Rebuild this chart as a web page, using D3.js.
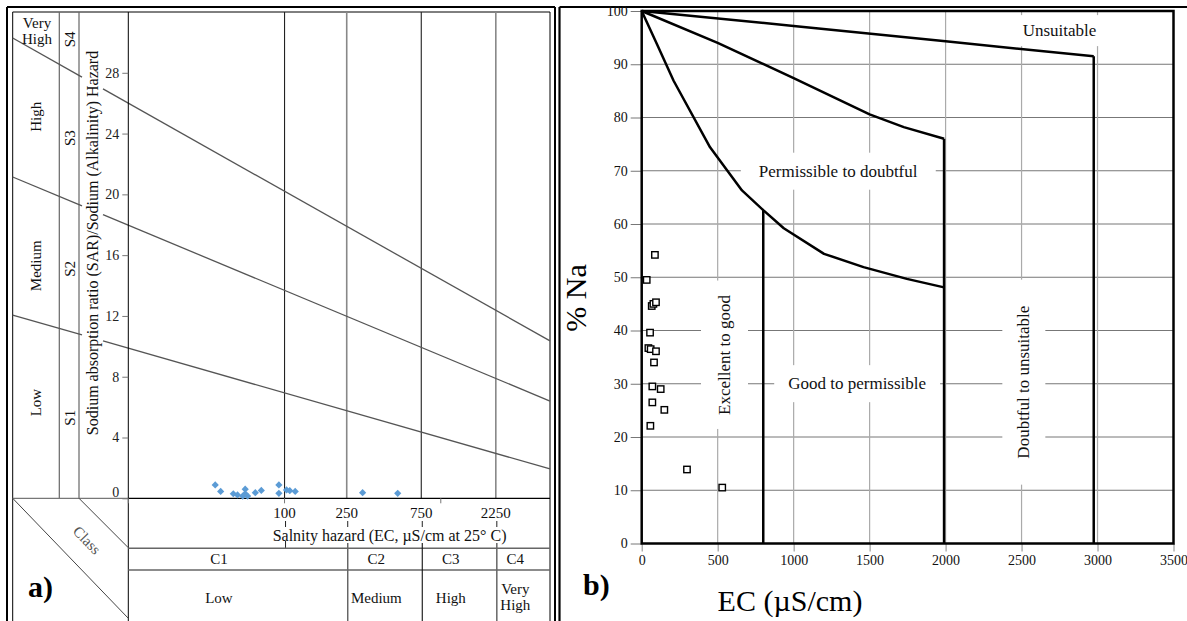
<!DOCTYPE html>
<html>
<head>
<meta charset="utf-8">
<script src="https://cdn.jsdelivr.net/npm/d3@7"></script>
<style>
    body { margin: 0; background: #fff; }
    svg { display: block; font-family: "Liberation Serif", "Times New Roman", serif; }
</style>
</head>
<body>
<svg id="canvas" width="1187" height="621"></svg>
<script>
// ---------- panel a) : USSL (Richards) diagram ----------
const sarTicks = [0, 4, 8, 12, 16, 20, 24, 28];
const ecLabelsA = [100, 250, 750, 2250];
const ecMajorA = [10, 100, 1000];
// SAR of each hazard boundary read at EC = 10 and EC = 5000
const sarBoundaries = [
    {name: "S3/S4", at10: 26.0, at5000: 10.36},
    {name: "S2/S3", at10: 17.97, at5000: 6.4},
    {name: "S1/S2", at10: 9.88, at5000: 1.93}
];
const sodiumClasses = [
    {label: ["Very", "High"], s: "S4", sar: 30.8, sSar: 30.2},
    {label: ["High"], s: "S3", sar: 25.1, sSar: 23.7},
    {label: ["Medium"], s: "S2", sar: 15.3, sSar: 15.1},
    {label: ["Low"], s: "S1", sar: 6.3, sSar: 5.3}
];
const salinityClasses = ["C1", "C2", "C3", "C4"];
const salinityNames = [["Low"], ["Medium"], ["High"], ["Very", "High"]];
const salinityLabelEC = [38, 387, 1160, 3000];
const salinityLimits = [250, 750, 2250];
const samplesA = [
    [36, 0.88], [39, 0.45], [47, 0.3], [56, 0.6], [56, 0.3], [54, 0.15], [58, 0.15],
    [50, 0.22], [65, 0.37], [71, 0.52], [92, 0.88], [92, 0.33], [103, 0.55],
    [108, 0.5], [117, 0.45], [316, 0.37], [530, 0.33]
];

// ---------- panel b) : Wilcox diagram ----------
const ecTicksB = [0, 500, 1000, 1500, 2000, 2500, 3000, 3500];
const naTicks = [0, 10, 20, 30, 40, 50, 60, 70, 80, 90, 100];
const upperCurve = [[0, 100], [1000, 97.2], [2000, 94.3], [2975, 91.5]];
const middleCurve = [[0, 100], [500, 94], [1000, 87.4], [1500, 80.6], [1725, 78.2], [1990, 76]];
const lowerCurve = [[0, 100], [100, 93.8], [210, 86.9], [450, 74.4], [660, 66.3], [800, 62.6],
    [935, 59.2], [1200, 54.4], [1460, 51.9], [1745, 49.7], [1990, 48.1]];
const classLimitsB = [800, 1990, 2975];
const samplesB = [
    [87, 54.2], [33, 49.5], [66, 44.6], [77, 45.0], [94, 45.3], [55, 39.6], [44, 36.7],
    [59, 36.5], [94, 36.1], [81, 34.0], [70, 29.5], [125, 29.0], [70, 26.5], [149, 25.1],
    [57, 22.1], [298, 13.9], [530, 10.5]
];
const zoneLabels = [
    {text: "Unsuitable", ec: 2750, na: 96.4, rotate: 0, padX: 12, padY: 6},
    {text: "Permissible to doubtful", ec: 1293, na: 70, rotate: 0, padX: 18, padY: 9},
    {text: "Excellent to good", ec: 542, na: 35.4, rotate: -90, padX: 14, padY: 14},
    {text: "Good to permissible", ec: 1418, na: 30.1, rotate: 0, padX: 14, padY: 9},
    {text: "Doubtful to unsuitable", ec: 2512, na: 30.3, rotate: -90, padX: 12, padY: 26}
];

const svg = d3.select("#canvas");
svg.append("rect").attr("width", 1187).attr("height", 621).attr("fill", "#fff");

function line(g, x1, y1, x2, y2, color, width) {
    return g.append("line")
        .attr("x1", x1).attr("y1", y1).attr("x2", x2).attr("y2", y2)
        .attr("stroke", color).attr("stroke-width", width);
}

/**
 * Draws panel a) with its class columns and the salinity/sodium grid.
 */
function drawPanelA() {
    const g = svg.append("g");
    const xA = d3.scaleLog().domain([10, 5000]).range([128.3, 550]);
    const yA = d3.scaleLinear().domain([0, 32]).range([498.3, 12]);
    const left = 12.7, right = xA.range()[1], top = yA.range()[1], bottom = yA.range()[0];

    // frames
    line(g, 7, 7, 555, 7, "#000", 2);
    line(g, 7, 7, 7, 621, "#000", 2);
    line(g, 555, 7, 555, 621, "#000", 2);
    line(g, left, top, right, top, "#000", 1);
    line(g, left, top, left, 621, "#000", 1);
    line(g, right, top, right, 621, "#000", 1);

    // class columns on the left
    line(g, 59.3, top, 59.3, bottom, "#666", 1.2);
    line(g, 79, top, 79, bottom, "#666", 1.2);
    line(g, left, bottom, xA(10), bottom, "#777", 1.2);

    // vertical salinity lines
    g.selectAll(".vgrid").data(ecLabelsA).enter().append("line")
        .attr("x1", d => xA(d)).attr("x2", d => xA(d))
        .attr("y1", top).attr("y2", bottom)
        .attr("stroke", (d, i) => i % 2 ? "#888" : "#222")
        .attr("stroke-width", (d, i) => i % 2 ? 1.6 : 1.1);

    // sodium hazard boundaries, broken where the axis title sits
    const x10 = xA(10), x5000 = xA(5000);
    sarBoundaries.forEach(b => {
        const yAt = px => yA(b.at10) + (px - x10) / (x5000 - x10) * (yA(b.at5000) - yA(b.at10));
        [[left, 82], [103, right]].forEach(seg => {
            line(g, seg[0], yAt(seg[0]), seg[1], yAt(seg[1]), "#555", 1.3);
        });
    });

    // axes
    line(g, x10, top, x10, 621, "#000", 1);
    line(g, x10, bottom, right, bottom, "#000", 1.2);
    const yAxis = g.append("g").attr("transform", `translate(${x10},0)`)
        .call(d3.axisLeft(yA).tickValues(sarTicks).tickSize(6).tickPadding(3));
    yAxis.select(".domain").remove();
    yAxis.selectAll("line").attr("stroke", "#777");
    yAxis.selectAll("text").attr("font-size", 14).attr("fill", "#222")
        .attr("font-family", "Liberation Serif")
        .attr("dy", d => d === 0 ? "-0.1em" : "0.32em");
    g.selectAll(".xtick").data(ecMajorA).enter().append("line")
        .attr("x1", d => xA(d)).attr("x2", d => xA(d))
        .attr("y1", bottom).attr("y2", bottom + 5)
        .attr("stroke", "#777");

    g.selectAll(".xlab").data(ecLabelsA).enter().append("text")
        .attr("x", d => xA(d)).attr("y", 518)
        .attr("text-anchor", "middle").attr("font-size", 15).attr("fill", "#111")
        .text(d => d);
    g.selectAll(".xdash").data(ecLabelsA).enter().append("line")
        .attr("x1", d => xA(d) + 1).attr("x2", d => xA(d) + 1)
        .attr("y1", 521).attr("y2", 527).attr("stroke", "#222");
    line(g, xA(100) + 1, 541, xA(100) + 1, 548, "#222", 1);
    g.append("text").attr("x", xA(470)).attr("y", 541)
        .attr("text-anchor", "middle").attr("font-size", 16).attr("fill", "#111")
        .text("Salnity hazard (EC, \u00b5S/cm at 25\u00b0 C)");

    // salinity class table
    line(g, x10, 548.3, right, 548.3, "#666", 1.5);
    line(g, x10, 570, right, 570, "#666", 1.5);
    g.selectAll(".csep").data(salinityLimits).enter().append("line")
        .attr("x1", d => xA(d) + 1).attr("x2", d => xA(d) + 1)
        .attr("y1", 543).attr("y2", 621)
        .attr("stroke", (d, i) => i === 1 ? "#111" : "#666")
        .attr("stroke-width", (d, i) => i === 1 ? 1.1 : 1.5);
    g.selectAll(".clab").data(salinityClasses).enter().append("text")
        .attr("x", (d, i) => xA(salinityLabelEC[i])).attr("y", 564)
        .attr("text-anchor", "middle").attr("font-size", 15).attr("fill", "#111")
        .text(d => d);
    salinityNames.forEach((name, i) => {
        const t = g.append("text").attr("x", xA(salinityLabelEC[i]))
            .attr("y", name.length > 1 ? 594 : 603)
            .attr("text-anchor", "middle").attr("font-size", 15).attr("fill", "#111");
        name.forEach((w, j) => t.append("tspan").attr("x", xA(salinityLabelEC[i]))
            .attr("dy", j ? 16 : 0).text(w));
    });

    // sodium class labels
    sodiumClasses.forEach(c => {
        if (c.label.length > 1) {
            const t = g.append("text").attr("x", 37).attr("y", 28)
                .attr("text-anchor", "middle").attr("font-size", 15).attr("fill", "#111");
            c.label.forEach((w, j) => t.append("tspan").attr("x", 37).attr("dy", j ? 16 : 0).text(w));
        } else {
            g.append("text").attr("transform", `translate(36,${yA(c.sar)}) rotate(-90)`)
                .attr("text-anchor", "middle").attr("dy", "0.35em")
                .attr("font-size", 15).attr("fill", "#111").text(c.label[0]);
        }
        g.append("text").attr("transform", `translate(69.5,${yA(c.sSar)}) rotate(-90)`)
            .attr("text-anchor", "middle").attr("dy", "0.35em")
            .attr("font-size", 15).attr("fill", "#111").text(c.s);
    });
    g.append("text").attr("transform", `translate(92,${yA(16.8)}) rotate(-90)`)
        .attr("text-anchor", "middle").attr("dy", "0.35em")
        .attr("font-size", 16).attr("fill", "#111")
        .text("Sodium absorption ratio (SAR)/Sodium (Alkalinity) Hazard");

    // corner with the "Class" diagonal
    line(g, left, bottom, x10, 618.3, "#444", 1);
    line(g, 79, bottom, x10, 547.7, "#444", 1);
    g.append("text").attr("transform", "translate(87,540) rotate(46)")
        .attr("text-anchor", "middle").attr("dy", "0.35em")
        .attr("font-size", 15).attr("fill", "#555").text("Class");
    g.append("text").attr("x", 28).attr("y", 597)
        .attr("font-size", 30).attr("font-weight", "bold").attr("fill", "#000").text("a)");

    // samples
    g.selectAll(".sample").data(samplesA).enter().append("path")
        .attr("d", d3.symbol(d3.symbolSquare, 26))
        .attr("transform", d => `translate(${xA(d[0])},${yA(d[1])}) rotate(45)`)
        .attr("fill", "#5b9bd5");
}

/**
 * Draws panel b) with the %Na / EC suitability zones.
 */
function drawPanelB() {
    const g = svg.append("g");
    const xB = d3.scaleLinear().domain([0, 3500]).range([641.7, 1173.5]);
    const yB = d3.scaleLinear().domain([0, 100]).range([543.5, 11]);

    line(g, 559.5, 7, 1187, 7, "#000", 2.2);
    line(g, 559.5, 7, 559.5, 621, "#000", 2.2);

    // grid
    const yAxis = g.append("g").attr("transform", `translate(${xB(0)},0)`)
        .call(d3.axisLeft(yB).tickValues(naTicks).tickSize(11).tickPadding(3));
    yAxis.select(".domain").remove();
    yAxis.selectAll("line").attr("stroke", "#777");
    yAxis.selectAll("text").attr("font-size", 14).attr("fill", "#111").attr("font-family", "Liberation Serif");
    const xAxis = g.append("g").attr("transform", `translate(0,${yB(0)})`)
        .call(d3.axisBottom(xB).tickValues(ecTicksB).tickFormat(d3.format("d"))
            .tickSize(8).tickPadding(4));
    xAxis.select(".domain").remove();
    xAxis.selectAll("line").attr("stroke", "#888");
    xAxis.selectAll("text").attr("font-size", 14).attr("fill", "#111").attr("font-family", "Liberation Serif");

    g.selectAll(".hgrid").data(naTicks.slice(1, -1)).enter().append("line")
        .attr("x1", xB(0)).attr("x2", xB(3500))
        .attr("y1", d => yB(d)).attr("y2", d => yB(d))
        .attr("stroke", "#777").attr("stroke-width", 1);
    g.selectAll(".vgrid").data(ecTicksB.slice(1, -1)).enter().append("line")
        .attr("x1", d => xB(d)).attr("x2", d => xB(d))
        .attr("y1", yB(100)).attr("y2", yB(0))
        .attr("stroke", "#aaa").attr("stroke-width", 1.2);

    // zone labels on white boxes
    const labels = g.selectAll(".zone").data(zoneLabels).enter().append("g")
        .attr("transform", d => `translate(${xB(d.ec)},${yB(d.na)}) rotate(${d.rotate})`);
    labels.append("rect").attr("class", "box").attr("fill", "#fff");
    labels.append("text").attr("text-anchor", "middle").attr("dy", "0.35em")
        .attr("font-size", 17).attr("fill", "#111").text(d => d.text);
    labels.each(function (d) {
        const bb = d3.select(this).select("text").node().getBBox();
        const w = d.rotate ? d.padY : d.padX, h = d.rotate ? d.padX : d.padY;
        d3.select(this).select("rect")
            .attr("x", bb.x - w).attr("y", bb.y - h)
            .attr("width", bb.width + 2 * w).attr("height", bb.height + 2 * h);
    });
    labels.raise();

    // zone boundaries
    const path = d3.line().x(d => xB(d[0])).y(d => yB(d[1]));
    [upperCurve, middleCurve, lowerCurve].forEach(c => {
        g.append("path").attr("d", path(c)).attr("fill", "none")
            .attr("stroke", "#000").attr("stroke-width", 2.5).attr("stroke-linejoin", "round");
    });
    const limitTop = [62.6, 76, 91.5];
    classLimitsB.forEach((ec, i) => line(g, xB(ec), yB(0), xB(ec), yB(limitTop[i]), "#000", 2.5));
    g.append("rect").attr("x", xB(0)).attr("y", yB(100))
        .attr("width", xB(3500) - xB(0)).attr("height", yB(0) - yB(100))
        .attr("fill", "none").attr("stroke", "#000").attr("stroke-width", 2.5);

    // samples
    g.selectAll(".sample").data(samplesB).enter().append("rect")
        .attr("x", d => xB(d[0]) - 3.2).attr("y", d => yB(d[1]) - 3.2)
        .attr("width", 6.4).attr("height", 6.4)
        .attr("fill", "#fff").attr("stroke", "#000").attr("stroke-width", 1.4);

    // titles
    g.append("text").attr("transform", "translate(575,298) rotate(-90)")
        .attr("text-anchor", "middle").attr("dy", "0.35em")
        .attr("font-size", 30).attr("fill", "#000").text("% Na");
    g.append("text").attr("x", 790).attr("y", 611)
        .attr("text-anchor", "middle").attr("font-size", 30).attr("fill", "#000")
        .text("EC (\u00b5S/cm)");
    g.append("text").attr("x", 583).attr("y", 595)
        .attr("font-size", 30).attr("font-weight", "bold").attr("fill", "#000").text("b)");
}

drawPanelA();
drawPanelB();
</script>
</body>
</html>
